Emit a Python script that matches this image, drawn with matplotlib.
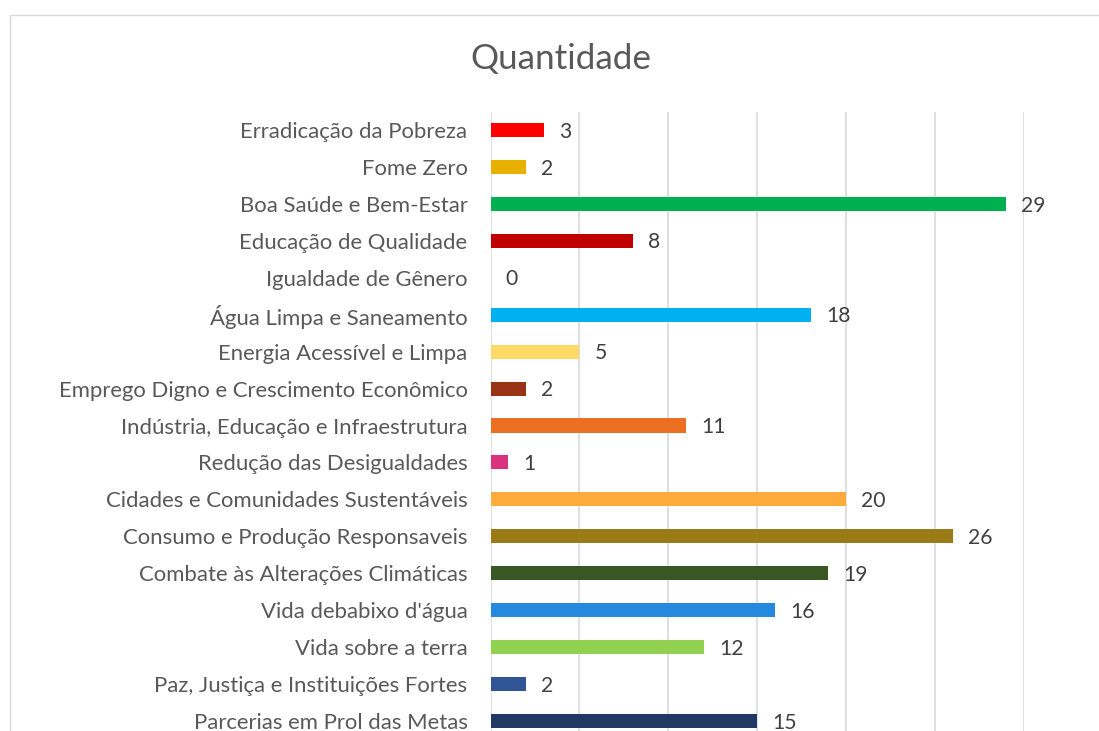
import matplotlib
matplotlib.use("Agg")
import matplotlib.pyplot as plt
from matplotlib.patches import Rectangle

categories = [
    "Erradicação da Pobreza",
    "Fome Zero",
    "Boa Saúde e Bem-Estar",
    "Educação de Qualidade",
    "Igualdade de Gênero",
    "Água Limpa e Saneamento",
    "Energia Acessível e Limpa",
    "Emprego Digno e Crescimento Econômico",
    "Indústria, Educação e Infraestrutura",
    "Redução das Desigualdades",
    "Cidades e Comunidades Sustentáveis",
    "Consumo e Produção Responsaveis",
    "Combate às Alterações Climáticas",
    "Vida debabixo d'água",
    "Vida sobre a terra",
    "Paz, Justiça e Instituições Fortes",
    "Parcerias em Prol das Metas",
]
values = [3, 2, 29, 8, 0, 18, 5, 2, 11, 1, 20, 26, 19, 16, 12, 2, 15]
colors = [
    "#FF0000", "#E8B100", "#00B050", "#C00000", "#E5243B",
    "#00B0F0", "#FFD966", "#993315", "#EC7022", "#DB3280",
    "#FDAB3D", "#9A7B17", "#385723", "#2589E0", "#92D050",
    "#2F5597", "#203864",
]
title = "Quantidade"
xticks = [0, 5, 10, 15, 20, 25, 30]

plt.rcParams['font.family'] = ['Lato', 'DejaVu Sans']

W, H = 1099, 731
fig = plt.figure(figsize=(W / 100, H / 100), dpi=100)

# chart border (partially cropped)
fig.patches.append(Rectangle((9.5 / W, -0.5), 2.0, (H - 14.5) / H + 0.5,
                             transform=fig.transFigure, fill=False,
                             edgecolor="#D9D9D9", linewidth=1.0))

left, right = 490.5, 1024.0
top, bottom = 111.5, 739.5
ax = fig.add_axes([left / W, (H - bottom) / H, (right - left) / W, (bottom - top) / H])

y = list(range(len(categories)))
ax.barh(y, values, height=0.38, color=colors, zorder=3)
ax.set_xlim(0, 30)
ax.set_ylim(len(categories) - 0.5, -0.5)
ax.set_xticks(xticks)
ax.set_xticklabels([])
ax.tick_params(axis="x", length=0)
ax.tick_params(axis="y", length=0, pad=16.5)
ax.set_yticks(y)
ax.set_yticklabels(categories, fontsize=15.9, color="#595959")
ax.grid(axis="x", color="#D9D9D9", linewidth=1.2, zorder=0)
for s in ax.spines.values():
    s.set_visible(False)

for yi, v in zip(y, values):
    ax.annotate(str(v), (v, yi), xytext=(11, -1.2), textcoords="offset points",
                ha="left", va="center", fontsize=15.2, color="#404040",
                annotation_clip=False)

fig.text(561 / W, (H - 59) / H, title,
         ha="center", va="center", fontsize=25.3, color="#595959")

fig.savefig("out.png", dpi=100)
